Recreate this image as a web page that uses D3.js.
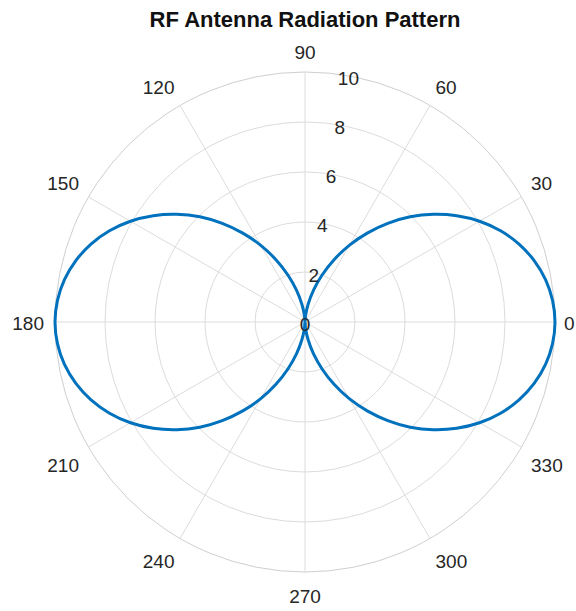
<!DOCTYPE html>
<html>
<head>
<meta charset="utf-8">
<script src="https://cdn.jsdelivr.net/npm/d3@7"></script>
<style>
  html, body { margin: 0; padding: 0; background: #fff; }
  svg { display: block; font-family: "Liberation Sans", Arial, Helvetica, sans-serif; }
</style>
</head>
<body>
<svg id="chart" width="576" height="611"></svg>
<script>
// ---- data ----
const title = "RF Antenna Radiation Pattern";
const thetaDeg = [0,5,10,15,20,25,30,35,40,45,50,55,60,65,70,75,80,85,
  90,95,100,105,110,115,120,125,130,135,140,145,150,155,160,165,170,175,
  180,185,190,195,200,205,210,215,220,225,230,235,240,245,250,255,260,265,
  270,275,280,285,290,295,300,305,310,315,320,325,330,335,340,345,350,355];
const rValues = [10.00,9.94,9.77,9.49,9.11,8.63,8.06,7.41,6.70,5.95,5.15,4.34,3.54,2.75,2.00,1.32,0.72,0.26,
  0.00,0.26,0.72,1.32,2.00,2.75,3.54,4.34,5.15,5.95,6.70,7.41,8.06,8.63,9.11,9.49,9.77,9.94,
  10.00,9.94,9.77,9.49,9.11,8.63,8.06,7.41,6.70,5.95,5.15,4.34,3.54,2.75,2.00,1.32,0.72,0.26,
  0.00,0.26,0.72,1.32,2.00,2.75,3.54,4.34,5.15,5.95,6.70,7.41,8.06,8.63,9.11,9.49,9.77,9.94];
const rTicks = [0, 2, 4, 6, 8, 10];
const thetaTicks = [0, 30, 60, 90, 120, 150, 180, 210, 240, 270, 300, 330];
const rLabelAngle = 80;

// ---- layout ----
const W = 576;
const svg = d3.select("#chart");
const cx = 305, cy = 322, R = 250;
const r = d3.scaleLinear().domain([0, 10]).range([0, R]);
const toRad = d => d * Math.PI / 180;
const px = (deg, v) => cx + r(v) * Math.cos(toRad(deg));
const py = (deg, v) => cy - r(v) * Math.sin(toRad(deg));

const gridColor = "#dcdcdc";
const textColor = "#262626";

// rings
svg.append("g").selectAll("circle").data(rTicks.filter(d => d > 0)).join("circle")
  .attr("cx", cx).attr("cy", cy).attr("r", d => r(d))
  .attr("fill", "none")
  .attr("stroke", d => d === 10 ? "#cfcfcf" : gridColor)
  .attr("stroke-width", 1);

// spokes
svg.append("g").selectAll("line").data(thetaTicks).join("line")
  .attr("x1", cx).attr("y1", cy)
  .attr("x2", d => px(d, 10)).attr("y2", d => py(d, 10))
  .attr("stroke", gridColor).attr("stroke-width", 1);

// curve
const pts = thetaDeg.map((t, i) => [px(t, rValues[i]), py(t, rValues[i])]);
svg.append("path")
  .datum(pts)
  .attr("d", d3.line().curve(d3.curveCatmullRomClosed.alpha(0.5)))
  .attr("fill", "none")
  .attr("stroke", "#0072BD")
  .attr("stroke-width", 3);

// theta labels
const labR = 261, fs = 19;
svg.append("g").selectAll("text").data(thetaTicks).join("text")
  .attr("font-size", fs).attr("fill", textColor)
  .text(d => d)
  .each(function(d) {
    const w = this.getComputedTextLength();
    const a = toRad(d);
    const c = Math.cos(a), s = Math.sin(a);
    const bx = cx + labR * c, by = cy - labR * s;
    let x, y, anchor;
    if (c > 0.01) { anchor = "start"; x = bx; }
    else if (c < -0.01) { anchor = "end"; x = bx; }
    else { anchor = "middle"; x = bx; }
    if (s > 0.01) { y = by - 2; }
    else if (s < -0.01) { y = by + 19.5; }
    else { y = by + 8; }
    if (anchor === "start" && x + w > W - 1.5) x = W - 1.5 - w;
    d3.select(this).attr("x", x).attr("y", y).attr("text-anchor", anchor);
  });

// r labels
svg.append("g").selectAll("text").data(rTicks).join("text")
  .attr("font-size", fs).attr("fill", textColor)
  .attr("text-anchor", "middle")
  .attr("x", d => px(rLabelAngle, d))
  .attr("y", d => py(rLabelAngle, d) + 2 + fs * 0.36)
  .text(d => d);

// title
svg.append("text")
  .attr("x", cx).attr("y", 27)
  .attr("text-anchor", "middle")
  .attr("font-size", 22).attr("font-weight", "bold")
  .attr("fill", "#111")
  .text(title);
</script>
</body>
</html>
